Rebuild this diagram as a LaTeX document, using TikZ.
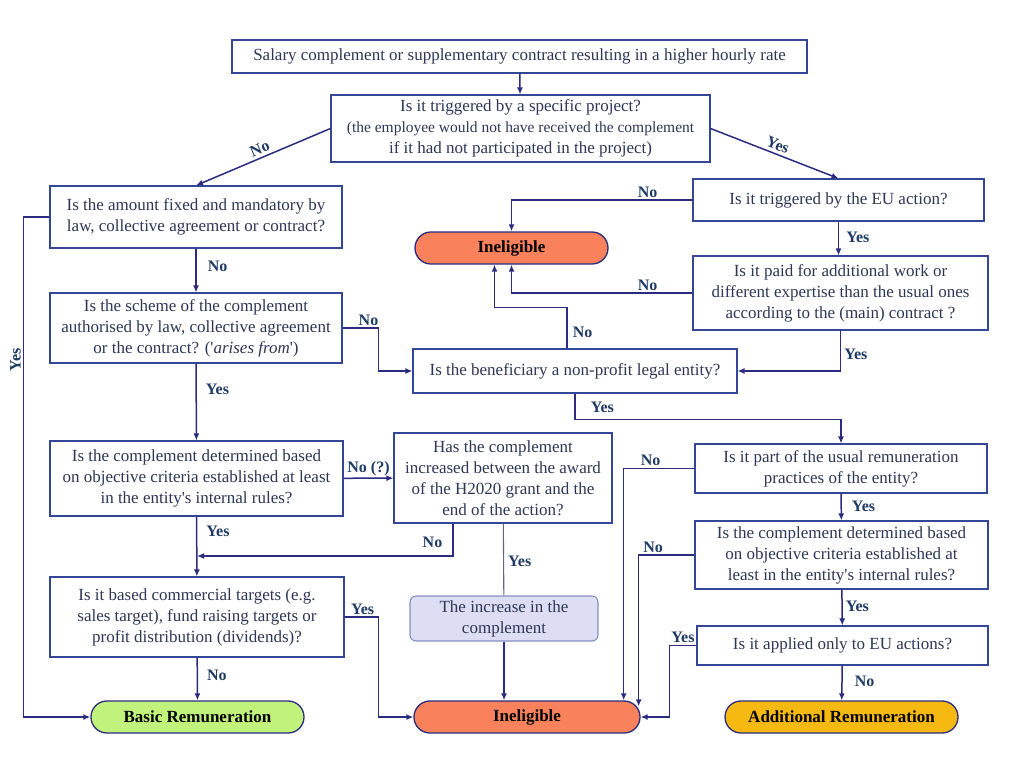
\documentclass[tikz,border=0pt]{standalone}
\usepackage{fontspec}
\setmainfont{Liberation Serif}
\usetikzlibrary{arrows.meta}
\definecolor{boxline}{RGB}{52,70,150}
\definecolor{flow}{RGB}{43,43,128}
\definecolor{lbltext}{RGB}{31,58,100}
\definecolor{boxtext}{RGB}{45,55,85}
\definecolor{coral}{RGB}{249,130,92}
\definecolor{gold}{RGB}{245,185,18}
\definecolor{lime}{RGB}{192,242,124}
\definecolor{lavender}{RGB}{221,221,243}
\tikzset{
  question/.style 2 args={draw=boxline, line width=1.1pt, fill=white, text=boxtext, align=center,
    minimum width=#1, minimum height=#2, inner sep=1pt, font=\fontsize{17}{21}\selectfont},
  outcome/.style 2 args={draw=flow, line width=1.3pt, fill=#1, rounded corners=15.9pt, text=black,
    minimum width=#2, minimum height=32pt, inner sep=0pt, font=\bfseries\fontsize{17}{20}\selectfont},
  note/.style={draw=boxline!60, line width=1.1pt, fill=lavender, rounded corners=6pt, text=boxtext,
    align=center, minimum width=188pt, minimum height=45pt, inner sep=1pt, font=\fontsize{17}{21}\selectfont},
  lbl/.style={font=\bfseries\fontsize{16}{19}\selectfont, text=lbltext, inner sep=2pt},
  arr/.style={draw=flow, line width=1.5pt, -{Latex[length=7pt,width=6pt]}}
}
\begin{document}
\begin{tikzpicture}[x=1pt, y=-1pt]
\useasboundingbox (0,0) rectangle (1024,770);

\node[question={575pt}{33pt}] (start) at (519.5,56.5) {Salary complement or supplementary contract resulting in a higher hourly rate};
\node[question={379pt}{67pt}] (project) at (520.5,128.5) {Is it triggered by a specific project?\\ \fontsize{15.5}{19}\selectfont (the employee would not have received the complement\\ if it had not participated in the project)};
\node[question={292pt}{62pt}] (amount) at (196,217) {Is the amount fixed and mandatory by\\ law, collective agreement or contract?};
\node[question={291pt}{42pt}] (euact) at (838.5,200) {Is it triggered by the EU action?};
\node[outcome={coral}{193pt}] (inel1) at (511.5,248) {Ineligible};
\node[question={295pt}{74pt}] (paid) at (840.5,293) {Is it paid for additional work or\\ different expertise than the usual ones\\ according to the (main) contract ?};
\node[question={324pt}{44pt}] (nonprofit) at (575,371) {Is the beneficiary a non-profit legal entity?};
\node[question={292pt}{70pt}] (scheme) at (196,328) {Is the scheme of the complement\\ authorised by law, collective agreement\\ or the contract? (\textquotesingle\textit{arises from}\textquotesingle)};
\node[question={293pt}{75pt}] (crit1) at (196.5,478.5) {Is the complement determined based\\ on objective criteria established at least\\ in the entity\textquotesingle s internal rules?};
\node[question={218pt}{90pt}] (grew) at (503,478) {Has the complement\\ increased between the award\\ of the H2020 grant and the\\ end of the action?};
\node[question={292pt}{49pt}] (usual) at (841,468.5) {Is it part of the usual remuneration\\ practices of the entity?};
\node[question={293pt}{68pt}] (crit2) at (841.5,555) {Is the complement determined based\\ on objective criteria established at\\ least in the entity\textquotesingle s internal rules?};
\node[question={291pt}{39pt}] (euonly) at (842.5,645.5) {Is it applied only to EU actions?};
\node[note] (incr) at (504,618.5) {The increase in the\\ complement};
\node[question={294pt}{80pt}] (target) at (197,617) {Is it based commercial targets (e.g.\\ sales target), fund raising targets or\\ profit distribution (dividends)?};
\node[outcome={lime}{213pt}] (basic) at (197.5,717) {Basic Remuneration};
\node[outcome={coral}{226pt}] (inel2) at (527,717) {Ineligible};
\node[outcome={gold}{233pt}] (addl) at (841.5,717) {Additional Remuneration};
\coordinate (join) at (197,556);

\draw[arr] (start) -- (project);
\draw[arr] (project.west) -- node[lbl, above=1pt, sloped] {No} (amount.north);
\draw[arr] (project.east) -- node[lbl, above=1pt, sloped] {Yes} (euact.north);
\draw[arr] (euact.west) -| node[lbl, above, pos=0.124] {No} (inel1.north);
\draw[arr] (euact.south) -- node[lbl, right=5pt, pos=0.46] {Yes} (euact.south |- paid.north);
\draw[arr] (paid.west) -| node[lbl, above, pos=0.124] {No} (inel1.south);
\draw[arr] ([xshift=-8pt]nonprofit.north) -- node[lbl, right=3pt, pos=0.39] {No} ++(0,-41) -| ([xshift=-17pt]inel1.south);
\draw[arr] (paid.south) |- node[lbl, right=1pt, pos=0.3] {Yes} (nonprofit.east);
\draw[arr] (nonprofit.south) -- node[lbl, right=13pt, pos=0.54] {Yes} ++(0,26) -| (usual.north);

\draw[arr] (amount) -- node[lbl, right=9pt, pos=0.4] {No} (scheme);
\draw[arr] (amount.west) -- ++(-26,0) |- node[lbl, rotate=90, anchor=south, pos=0.143] {Yes} (basic.west);
\draw[arr] (scheme.east) -- node[lbl, above, pos=0.72] {No} ++(36,0) |- (nonprofit.west);
\draw[arr] (scheme) -- node[lbl, right=7pt, pos=0.33] {Yes} (crit1);
\draw[arr] (crit1) -- node[lbl, above] {No (?)} (grew);
\draw[arr] (crit1) -- node[lbl, right=7pt, pos=0.25] {Yes} (target);
\draw[arr] ([xshift=-50pt]grew.south) |- node[lbl, left=8pt, pos=0.29] {No} (join);
\draw[draw=gray!70!flow, line width=1.1pt] (grew) -- node[lbl, right=2pt, pos=0.52] {Yes} (incr);
\draw[arr] (incr) -- (incr.south |- inel2.north);
\draw[arr] (target.east) -- node[lbl, above, pos=0.53] {Yes} ++(34,0) |- (inel2.west);
\draw[arr] (target) -- node[lbl, right=7pt, pos=0.41] {No} (basic);

\draw[arr] (usual) -- node[lbl, right=8pt, pos=0.46] {Yes} (crit2);
\draw[arr] (crit2) -- node[lbl, right=1pt, pos=0.46] {Yes} (euonly);
\draw[arr] (euonly) -- node[lbl, right=10pt, pos=0.44] {No} (addl);
\draw[arr] (usual.west) -| node[lbl, above, pos=0.31] {No} ([xshift=-17pt]inel2.north east);
\draw[arr] (crit2.west) -| node[lbl, above, pos=0.37] {No} ([xshift=-2pt,yshift=-6pt]inel2.north east);
\draw[arr] (euonly.west) -- node[lbl, above] {Yes} ++(-27,0) |- (inel2.east);
\end{tikzpicture}
\end{document}
